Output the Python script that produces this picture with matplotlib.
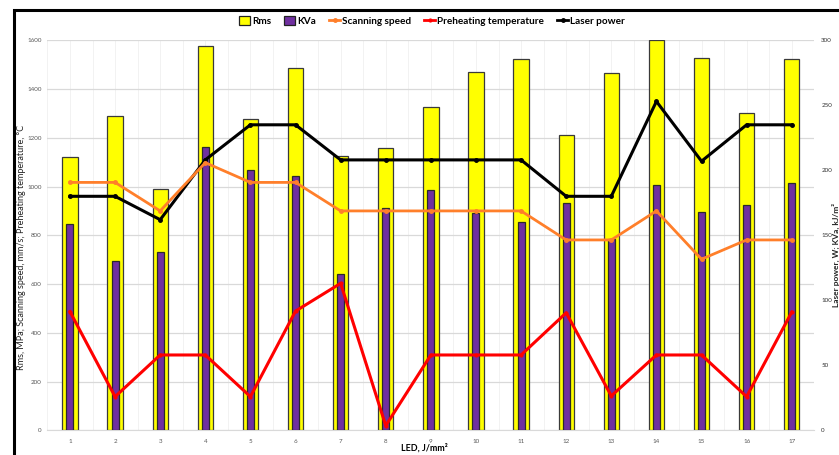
import matplotlib
matplotlib.use("Agg")
import matplotlib.pyplot as plt
from matplotlib.lines import Line2D
from matplotlib.patches import Patch, Rectangle
from matplotlib.ticker import MultipleLocator

plt.rcParams['font.family'] = ['Lato', 'DejaVu Sans']

# LED energy density samples
led = list(range(1, 18))

# Left-axis series (MPa, mm/s, °C)
rms = [1120, 1289, 991, 1577, 1278, 1486, 1124, 1159, 1325, 1469, 1522,
       1210, 1466, 1603, 1526, 1300, 1523]
scanning_speed = [1017, 1017, 900, 1098, 1017, 1017, 900, 900, 900, 900, 900,
                  781, 781, 900, 702, 781, 781]
preheat_temp = [487, 138, 309, 309, 138, 489, 603, 19, 309, 309, 309,
                482, 141, 309, 309, 138, 485]

# Right-axis series (W, kJ/m²)
kva = [159, 130, 137, 218, 200, 196, 120, 171, 185, 167, 160,
       175, 147, 189, 168, 173, 190]
laser_power = [180, 180, 162, 208, 235, 235, 208, 208, 208, 208, 208,
               180, 180, 253, 207, 235, 235]

left_ticks = [0, 200, 400, 600, 800, 1000, 1200, 1400, 1600]
right_ticks = [0, 50, 100, 150, 200, 250, 300]

YELLOW = '#ffff00'
PURPLE = '#7030a0'
ORANGE = '#ff7f2a'
RED = '#ff0000'
TICK_COLOR = '#595959'

W, H = 839, 455
fig = plt.figure(figsize=(W / 100, H / 100), dpi=100)

# Outer chart frame (top and left edges visible)
fig.patches.append(Rectangle((14 / W, -0.1), 1.2, 1 - 10 / H + 0.1,
                             transform=fig.transFigure, fill=False,
                             edgecolor='black', linewidth=2.2, zorder=0))

ax = fig.add_axes([47.4 / W, (H - 430.3) / H, (814.3 - 47.4) / W, (430.3 - 40.3) / H])
ax2 = ax.twinx()
ax3 = ax.twinx()

# Rms bars (left scale)
ax.bar(led, rms, width=0.34, color=YELLOW, edgecolor='#3a3a3a', linewidth=0.9, zorder=2)
ax.set_ylim(0, 1600)
ax.set_xlim(0.5, 17.5)
ax.set_yticks(left_ticks)
ax.set_xticks(led)
ax.xaxis.set_minor_locator(MultipleLocator(0.5))
ax.grid(axis='y', which='major', color='#d9d9d9', linewidth=0.9, zorder=0)
ax.grid(axis='x', which='both', color='#f2f2f2', linewidth=0.7, zorder=0)
ax.set_axisbelow(True)
ax.tick_params(axis='both', which='both', length=0, labelsize=4.5, colors=TICK_COLOR, pad=4)
ax.tick_params(axis='x', pad=6)
for s in ['top', 'right', 'left']:
    ax.spines[s].set_visible(False)
ax.spines['bottom'].set_color('#d9d9d9')
ax.set_xlabel('LED, J/mm²', fontsize=6.5, fontweight='bold', va='center')
ax.xaxis.set_label_coords(0.492, -0.046)
ax.set_ylabel('Rms, MPa; Scanning speed, mm/s; Preheating temperature, °C',
              fontsize=6.5, color='#222222', va='center')
ax.yaxis.set_label_coords(-0.034, 0.47)

# KVa bars and laser power (right scale)
ax2.bar(led, kva, width=0.155, color=PURPLE, edgecolor='#2a2a2a', linewidth=0.9, zorder=2)
ax2.plot(led, laser_power, color='black', linewidth=2.2, marker='o', markersize=2.5, zorder=3)
ax2.set_ylim(0, 300)
ax2.set_yticks(right_ticks)
ax2.tick_params(axis='y', length=0, labelsize=4.5, colors='#333333', pad=5)
for s in ax2.spines.values():
    s.set_visible(False)
ax2.set_ylabel('Laser power, W; KVa, kJ/m²', fontsize=6.0, fontweight='bold',
               color='#222222', va='center', rotation=90)
ax2.yaxis.set_label_coords(1.0282, 0.45)

# Scanning speed and preheating temperature (left scale, drawn above bars)
ax3.plot(led, scanning_speed, color=ORANGE, linewidth=2.0, marker='o', markersize=2.5, zorder=3)
ax3.plot(led, preheat_temp, color=RED, linewidth=2.2, marker='o', markersize=2.0, zorder=3)
ax3.set_ylim(0, 1600)
ax3.set_yticks([])
for s in ax3.spines.values():
    s.set_visible(False)
ax3.patch.set_visible(False)

handles = [
    Patch(facecolor=YELLOW, edgecolor='#222222', linewidth=0.9),
    Patch(facecolor=PURPLE, edgecolor='#222222', linewidth=0.9),
    Line2D([], [], color=ORANGE, linewidth=2.0, marker='o', markersize=2.5),
    Line2D([], [], color=RED, linewidth=2.0, marker='o', markersize=2.0),
    Line2D([], [], color='black', linewidth=2.0, marker='o', markersize=2.5),
]
labels = ['Rms', 'KVa', 'Scanning speed', 'Preheating temperature', 'Laser power']
fig.legend(handles, labels, loc='center', bbox_to_anchor=(432 / W, 1 - 21 / H), ncol=5,
           frameon=False, prop={'size': 7.2, 'weight': 'bold'}, handlelength=1.1,
           handleheight=0.9, handletextpad=0.2, columnspacing=1.3)

fig.savefig('out.png', dpi=100)
